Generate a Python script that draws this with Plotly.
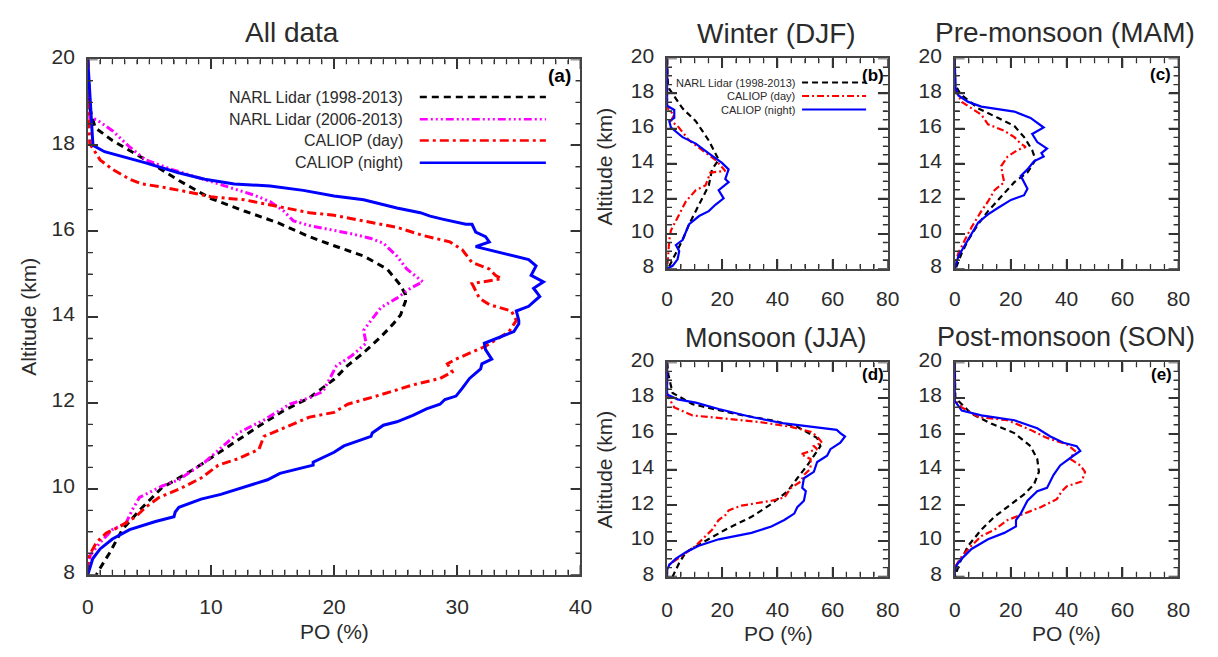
import plotly.graph_objects as go

# ---------------- data: altitude (km) vs occurrence PO (%) ----------------
# (a) All data
all_narl98_alt = [20.0, 19.5, 19.2, 18.86, 18.41, 18.11, 17.66, 17.18, 16.76, 16.47, 16.20, 15.87, 15.66, 15.42, 15.12, 14.74, 14.52, 14.37, 14.05, 13.84, 13.54, 13.17, 12.87, 12.55, 12.12, 11.82, 11.48, 10.92, 10.47, 10.02, 9.50, 9.05, 8.52, 8.15, 8.0]
all_narl98_po = [0.0, 0.05, 0.1, 0.16, 0.6, 2.0, 4.7, 7.4, 10.0, 12.7, 15.4, 18.0, 20.0, 22.4, 24.3, 25.4, 25.8, 25.8, 25.4, 24.8, 23.8, 22.4, 21.1, 20.0, 18.0, 15.9, 14.0, 11.1, 8.7, 6.0, 4.2, 2.8, 1.8, 1.0, 0.7]

all_narl06_alt = [20.0, 19.5, 19.0, 18.64, 18.6, 18.34, 17.96, 17.66, 17.44, 17.21, 17.03, 16.84, 16.69, 16.47, 16.24, 16.13, 16.02, 15.94, 15.83, 15.72, 15.42, 15.12, 14.82, 14.67, 14.44, 14.22, 13.92, 13.69, 13.39, 13.09, 12.87, 12.64, 12.27, 12.12, 11.97, 11.60, 11.30, 11.15, 10.62, 10.21, 10.06, 9.80, 9.50, 9.20, 9.05, 8.75, 8.45, 8.1, 8.0]
all_narl06_po = [0.0, 0.05, 0.1, 0.16, 0.7, 2.0, 3.4, 4.7, 6.8, 9.5, 11.4, 13.5, 14.8, 15.9, 16.7, 18.0, 20.0, 21.4, 23.0, 24.0, 25.1, 25.9, 27.2, 26.2, 25.1, 23.8, 23.0, 22.4, 22.6, 21.4, 20.2, 19.8, 19.1, 18.0, 16.4, 14.3, 12.2, 11.6, 9.5, 7.4, 6.0, 4.2, 3.6, 3.1, 2.0, 1.0, 0.2, 0.0, 0.0]

all_day_alt = [20.0, 19.0, 18.5, 18.04, 17.66, 17.44, 17.21, 17.10, 17.03, 16.91, 16.80, 16.73, 16.58, 16.43, 16.37, 16.24, 16.09, 15.90, 15.75, 15.57, 15.27, 15.12, 14.97, 14.89, 14.78, 14.44, 14.29, 14.14, 13.92, 13.66, 13.32, 13.02, 12.91, 12.72, 12.57, 12.42, 12.19, 11.97, 11.78, 11.67, 11.41, 11.22, 10.92, 10.70, 10.55, 10.25, 9.99, 9.80, 9.57, 9.35, 9.12, 8.97, 8.75, 8.49, 8.3, 8.0]
all_day_po = [0.0, 0.05, 0.1, 0.16, 1.0, 2.0, 3.4, 4.4, 6.0, 8.2, 10.0, 12.7, 15.4, 18.0, 20.0, 22.4, 25.1, 27.2, 29.4, 30.4, 31.2, 32.6, 33.1, 33.6, 31.2, 31.8, 32.6, 34.4, 34.8, 34.2, 32.3, 29.9, 29.2, 29.6, 28.6, 26.4, 23.8, 21.1, 20.0, 18.0, 15.9, 14.3, 13.9, 12.2, 10.6, 9.2, 7.4, 5.8, 4.7, 3.9, 2.6, 1.5, 0.7, 0.2, 0.0, 0.0]

all_night_alt = [20.0, 19.5, 19.0, 18.5, 18.0, 17.85, 17.70, 17.59, 17.36, 17.21, 17.10, 17.05, 16.95, 16.82, 16.73, 16.54, 16.43, 16.35, 16.28, 16.16, 16.16, 15.98, 15.87, 15.75, 15.64, 15.49, 15.34, 15.19, 14.97, 14.82, 14.67, 14.48, 14.25, 14.14, 13.92, 13.84, 13.66, 13.39, 13.24, 13.02, 12.91, 12.79, 12.57, 12.34, 12.16, 12.08, 11.97, 11.86, 11.71, 11.56, 11.48, 11.30, 11.22, 11.11, 11.0, 10.85, 10.62, 10.55, 10.36, 10.21, 10.04, 9.87, 9.76, 9.57, 9.46, 9.35, 9.24, 9.05, 8.83, 8.60, 8.37, 8.15, 8.0]
all_night_po = [0.0, 0.1, 0.2, 0.3, 0.42, 1.36, 3.36, 4.7, 7.36, 9.5, 11.9, 14.8, 17.5, 20.0, 22.4, 25.1, 27.0, 27.8, 28.8, 30.7, 31.2, 31.5, 32.3, 32.6, 31.5, 33.6, 35.8, 36.4, 36.0, 37.0, 36.2, 36.7, 35.8, 34.8, 35.0, 35.0, 34.6, 32.2, 32.3, 32.8, 32.0, 31.9, 31.0, 30.4, 29.9, 29.0, 28.6, 27.5, 26.4, 25.1, 24.0, 23.1, 23.0, 21.9, 20.8, 20.0, 18.3, 18.3, 15.6, 14.6, 12.7, 10.8, 9.2, 7.4, 7.1, 7.0, 5.5, 3.4, 2.0, 1.0, 0.4, 0.2, 0.0]

# (b) Winter (DJF)
djf_narl_alt = [20.0, 19.0, 18.5, 18.26, 17.15, 16.42, 15.32, 14.22, 13.67, 12.75, 12.02, 11.29, 10.55, 9.64, 8.90, 8.17, 8.0]
djf_narl_po = [0.0, 0.1, 0.3, 0.8, 5.6, 10.4, 15.1, 18.7, 16.3, 15.1, 12.7, 10.4, 8.0, 5.6, 3.2, 0.8, 0.3]
djf_day_alt = [20.0, 17.2, 17.0, 16.79, 16.42, 16.15, 15.32, 14.77, 14.22, 13.58, 13.49, 12.75, 12.48, 11.84, 10.92, 10.19, 9.64, 8.5, 8.0]
djf_day_po = [0.0, 0.0, 1.0, 2.6, 1.4, 3.8, 8.0, 12.7, 17.5, 21.1, 15.7, 13.9, 10.4, 6.8, 3.8, 1.4, 0.8, 0.2, 0.0]
djf_night_alt = [20.0, 17.3, 17.06, 16.61, 16.42, 16.06, 15.51, 15.14, 14.59, 14.04, 13.67, 13.12, 12.94, 12.48, 12.02, 11.65, 11.29, 11.01, 10.55, 9.64, 9.36, 9.0, 8.54, 8.17, 8.0]
djf_night_po = [0.0, 0.0, 2.6, 2.6, 0.8, 1.4, 5.6, 10.4, 15.1, 19.9, 22.3, 21.1, 22.3, 18.7, 20.5, 17.5, 15.1, 11.6, 8.0, 5.6, 3.2, 4.4, 3.8, 2.0, 0.0]

# (c) Pre-monsoon (MAM)
mam_narl_alt = [20.0, 18.5, 17.95, 17.15, 16.61, 16.15, 15.51, 14.77, 14.22, 13.49, 12.94, 11.93, 11.29, 10.55, 9.64, 8.90, 8.17, 8.0]
mam_narl_po = [0.0, 0.1, 2.1, 8.4, 15.4, 21.3, 24.8, 27.7, 28.9, 26.0, 21.3, 15.4, 11.9, 8.4, 4.8, 2.5, 0.7, 0.3]
mam_day_alt = [20.0, 18.5, 18.2, 17.52, 17.15, 16.79, 16.24, 15.87, 15.51, 15.14, 14.95, 14.77, 14.40, 13.86, 13.30, 12.94, 12.48, 11.84, 11.29, 10.37, 9.64, 8.90, 8.2, 8.0]
mam_day_po = [0.0, 0.0, 0.2, 2.5, 6.0, 9.5, 11.9, 17.7, 21.3, 23.6, 25.4, 22.4, 18.9, 16.6, 17.2, 17.7, 14.2, 11.9, 9.5, 6.0, 3.6, 1.3, 0.0, 0.0]
mam_night_alt = [20.0, 19.7, 18.3, 17.89, 17.52, 17.25, 16.97, 16.61, 16.06, 15.69, 15.23, 14.86, 14.6, 14.40, 14.13, 13.67, 13.30, 12.94, 12.57, 12.20, 11.93, 11.47, 11.10, 10.64, 10.00, 9.27, 8.72, 8.0]
mam_night_po = [0.0, 0.0, 0.3, 1.3, 4.8, 9.5, 21.3, 27.1, 31.8, 27.7, 29.5, 33.0, 31.0, 31.8, 28.3, 26.0, 23.6, 24.8, 26.0, 24.8, 20.1, 15.4, 11.9, 8.4, 6.0, 3.1, 1.3, 0.0]

# (d) Monsoon (JJA)
jja_narl_alt = [20.0, 19.3, 18.29, 17.66, 17.12, 16.76, 16.39, 15.77, 15.31, 14.77, 14.23, 13.51, 12.79, 12.07, 11.35, 10.63, 9.91, 9.37, 8.8, 8.2, 8.0]
jja_narl_po = [0.0, 0.5, 2.0, 9.2, 24.6, 37.8, 47.2, 54.4, 55.6, 53.2, 50.8, 47.2, 43.7, 37.8, 30.6, 21.1, 12.8, 6.8, 4.5, 2.6, 2.0]
jja_day_alt = [20.0, 18.3, 18.1, 17.48, 17.03, 16.85, 16.67, 16.39, 16.12, 15.85, 15.50, 15.31, 15.14, 14.86, 14.59, 14.05, 13.69, 13.33, 12.97, 12.43, 12.25, 11.98, 11.71, 11.44, 11.17, 10.63, 10.27, 9.73, 9.19, 8.82, 8.6, 8.0]
jja_day_po = [0.0, 0.0, 0.3, 2.6, 9.2, 21.1, 33.0, 44.9, 52.0, 54.4, 56.2, 53.2, 54.4, 48.5, 52.0, 52.0, 49.6, 48.5, 44.9, 42.5, 37.8, 27.0, 22.3, 21.1, 18.7, 16.3, 13.9, 10.4, 5.6, 2.0, 0.0, 0.0]
jja_night_alt = [20.0, 18.2, 17.93, 17.75, 17.39, 16.94, 16.58, 16.36, 16.22, 16.04, 15.85, 15.50, 15.14, 14.77, 14.42, 13.87, 13.51, 12.97, 12.79, 12.25, 11.89, 11.53, 11.17, 10.81, 10.45, 10.09, 9.73, 9.37, 9.01, 8.65, 8.4, 8.0]
jja_night_po = [0.0, 0.0, 3.8, 10.4, 18.7, 30.6, 42.5, 54.4, 61.5, 62.8, 64.5, 62.8, 59.2, 58.0, 54.4, 53.2, 49.6, 49.0, 50.3, 49.6, 47.2, 46.1, 42.5, 37.8, 30.6, 18.7, 11.5, 6.8, 3.2, 0.8, 0.0, 0.0]

# (e) Post-monsoon (SON)
son_narl_alt = [20.0, 18.0, 17.84, 17.12, 16.58, 16.04, 15.31, 14.59, 13.87, 13.15, 12.61, 12.07, 11.35, 10.63, 9.73, 8.82, 8.3, 8.0]
son_narl_po = [0.0, 0.2, 1.3, 6.0, 13.0, 21.3, 27.1, 29.5, 30.1, 28.3, 24.8, 20.1, 14.2, 9.5, 4.8, 1.9, 0.7, 0.3]
son_day_alt = [20.0, 17.9, 17.48, 16.94, 16.76, 16.22, 15.77, 15.41, 15.04, 14.59, 14.23, 13.87, 13.33, 13.06, 12.79, 12.34, 11.89, 11.53, 11.17, 10.63, 10.27, 9.55, 9.01, 8.5, 8.0]
son_day_po = [0.0, 0.0, 2.5, 8.4, 18.9, 27.1, 33.0, 40.1, 43.0, 41.3, 44.9, 46.6, 45.4, 40.1, 38.3, 36.5, 30.7, 24.8, 18.9, 14.2, 9.5, 4.8, 1.9, 0.0, 0.0]
son_night_alt = [20.0, 17.84, 17.30, 17.03, 16.76, 16.31, 15.85, 15.50, 15.31, 15.04, 14.77, 14.23, 13.69, 13.33, 12.97, 12.79, 12.25, 11.53, 11.17, 10.81, 10.45, 10.09, 9.55, 9.01, 8.65, 8.3, 8.0]
son_night_po = [0.0, 0.0, 2.5, 9.5, 21.3, 29.5, 34.2, 38.9, 43.6, 44.9, 42.4, 37.7, 35.3, 34.2, 33.0, 29.5, 26.0, 23.6, 21.9, 21.9, 17.7, 11.9, 6.0, 2.5, 0.7, 0.0, 0.0]

series_names = ["NARL Lidar (1998-2013)", "NARL Lidar (2006-2013)", "CALIOP (day)", "CALIOP (night)"]
panel_titles = ["All data", "Winter (DJF)", "Pre-monsoon (MAM)", "Monsoon (JJA)", "Post-monsoon (SON)"]
panel_tags = ["(a)", "(b)", "(c)", "(d)", "(e)"]

# ---------------- styling ----------------
W, H = 1218, 657
FONT = "Liberation Sans, Arial, Helvetica, sans-serif"
TXT = "#2b2b2b"
AX = "#444444"
TK = "#333333"

C_NARL98, C_NARL06, C_DAY, C_NIGHT = "#000000", "#ff00ff", "#ff0000", "#0000ff"
D_BIG = {"n98": "7px,5px", "n06": "8px,3px,2px,3px,2px,3px,2px,3px", "day": "9px,4px,3px,4px", "night": "solid"}
D_SMALL = {"n98": "6px,4px", "day": "7px,3px,2px,3px", "night": "solid"}


def fx(p):
    return p / W


def fy(p):
    return 1 - p / H


def xaxis(dom, rng, dtick, minor, anchor, standoff):
    return dict(domain=dom, range=rng, dtick=dtick, tick0=0, anchor=anchor,
                showline=True, linecolor=AX, linewidth=1.5, mirror="ticks",
                ticks="inside", ticklen=10, tickwidth=1.5, tickcolor=TK,
                minor=dict(ticks="inside", ticklen=5, tickwidth=1.3, tickcolor=TK, dtick=minor, tick0=0),
                showgrid=False, zeroline=False, ticklabelstandoff=standoff,
                tickfont=dict(family=FONT, size=21, color=TXT))


def yaxis(dom, anchor):
    return dict(domain=dom, range=[8, 20], dtick=2, tick0=0, anchor=anchor,
                showline=True, linecolor=AX, linewidth=1.5, mirror="ticks",
                ticks="inside", ticklen=10, tickwidth=1.5, tickcolor=TK,
                minor=dict(ticks="inside", ticklen=5, tickwidth=1.3, tickcolor=TK, dtick=0.5, tick0=0),
                showgrid=False, zeroline=False, ticklabelstandoff=7, ticklabelshift=-3,
                tickfont=dict(family=FONT, size=21, color=TXT))


fig = go.Figure()


def add_line(po, alt, color, width, dash, ax):
    fig.add_trace(go.Scatter(x=po, y=alt, mode="lines", showlegend=False, hoverinfo="skip",
                             line=dict(color=color, width=width, dash=dash),
                             xaxis="x" + ax, yaxis="y" + ax))


def box_ticks(ax, xmax, xmajor, xminor, wpx, hpx):
    """Inward tick marks on all four sides of a panel (box axes), built from the axis ranges."""
    ux = xmax / wpx          # data units per pixel along x
    uy = 12.0 / hpx          # km per pixel along y
    groups = {True: ([], []), False: ([], [])}
    n = int(round(xmax / xminor))
    for i in range(n + 1):
        v = i * xminor
        major = abs(v / xmajor - round(v / xmajor)) < 1e-9
        L = 10 if major else 5
        xs, ys = groups[major]
        xs += [v, v, None, v, v, None]
        ys += [8, 8 + L * uy, None, 20, 20 - L * uy, None]
    for i in range(25):
        v = 8 + i * 0.5
        major = i % 4 == 0
        L = 10 if major else 5
        xs, ys = groups[major]
        xs += [0, L * ux, None, xmax, xmax - L * ux, None]
        ys += [v, v, None, v, v, None]
    for major, (xs, ys) in groups.items():
        fig.add_trace(go.Scatter(x=xs, y=ys, mode="lines", showlegend=False, hoverinfo="skip",
                                 line=dict(color=TK, width=1.6 if major else 1.3),
                                 xaxis="x" + ax, yaxis="y" + ax, cliponaxis=False))


# panel (a)
add_line(all_narl98_po, all_narl98_alt, C_NARL98, 3, D_BIG["n98"], "")
add_line(all_narl06_po, all_narl06_alt, C_NARL06, 3, D_BIG["n06"], "")
add_line(all_day_po, all_day_alt, C_DAY, 3, D_BIG["day"], "")
add_line(all_night_po, all_night_alt, C_NIGHT, 3, D_BIG["night"], "")

# seasonal panels
seasonal = [
    ("2", djf_narl_po, djf_narl_alt, djf_day_po, djf_day_alt, djf_night_po, djf_night_alt),
    ("3", mam_narl_po, mam_narl_alt, mam_day_po, mam_day_alt, mam_night_po, mam_night_alt),
    ("4", jja_narl_po, jja_narl_alt, jja_day_po, jja_day_alt, jja_night_po, jja_night_alt),
    ("5", son_narl_po, son_narl_alt, son_day_po, son_day_alt, son_night_po, son_night_alt),
]
for ax, npo, nalt, dpo, dalt, gpo, galt in seasonal:
    add_line(npo, nalt, C_NARL98, 2.2, D_SMALL["n98"], ax)
    add_line(dpo, dalt, C_DAY, 2.2, D_SMALL["day"], ax)
    add_line(gpo, galt, C_NIGHT, 2.2, D_SMALL["night"], ax)

# panel frames (pixel boxes -> paper domains) and x tick-label standoff
boxes = {
    "": (83, 583, 46, 580, 12),
    "2": (671, 895, 45, 263, 10),
    "3": (963, 1190, 45, 263, 10),
    "4": (671, 895, 360, 582, 13),
    "5": (963, 1190, 360, 582, 13),
}
layout_axes = {}
for ax, (x0, x1, y0, y1, so) in boxes.items():
    xd = [fx(x0), fx(x1)]
    yd = [fy(y1), fy(y0)]
    if ax == "":
        layout_axes["xaxis"] = xaxis(xd, [0, 40], 10, 1, "y", so)
        layout_axes["yaxis"] = yaxis(yd, "x")
        box_ticks(ax, 40, 10, 1, x1 - x0, y1 - y0)
    else:
        layout_axes["xaxis" + ax] = xaxis(xd, [0, 80], 20, 5, "y" + ax, so)
        layout_axes["yaxis" + ax] = yaxis(yd, "x" + ax)
        box_ticks(ax, 80, 20, 5, x1 - x0, y1 - y0)

annotations = []
shapes = []


def text(x, y, s, size, bold=False, anchor="center", angle=0):
    annotations.append(dict(text=("<b>%s</b>" % s) if bold else s, x=fx(x), y=fy(y),
                            xref="paper", yref="paper", showarrow=False,
                            xanchor=anchor, yanchor="middle", textangle=angle,
                            font=dict(family=FONT, size=size, color="#000000" if bold else TXT)))


# titles
text(290, 18, panel_titles[0], 28)
text(782, 19, panel_titles[1], 28)
text(1075, 18, panel_titles[2], 28)
text(782, 335, panel_titles[3], 27)
text(1076, 334, panel_titles[4], 27)

# panel tags
text(562, 63, panel_tags[0], 19, bold=True)
text(880, 63, panel_tags[1], 17, bold=True)
text(1172, 62, panel_tags[2], 17, bold=True)
text(880, 373, panel_tags[3], 17, bold=True)
text(1173, 373, panel_tags[4], 17, bold=True)

# axis titles
text(22, 313, "Altitude (km)", 21, angle=-90)
text(607, 157, "Altitude (km)", 21, angle=-90)
text(607, 471, "Altitude (km)", 21, angle=-90)
text(333, 639, "PO (%)", 21)
text(784, 641, "PO (%)", 21)
text(1076, 641, "PO (%)", 21)


def legend_row(xt, xl0, xl1, yrow, label, color, dash, width, size):
    text(xt, yrow, label, size, anchor="right")
    shapes.append(dict(type="line", xref="paper", yref="paper",
                       x0=fx(xl0), x1=fx(xl1), y0=fy(yrow), y1=fy(yrow),
                       line=dict(color=color, width=width, dash=dash)))


# legend of panel (a)
legend_row(405, 420, 548, 85, series_names[0], C_NARL98, D_BIG["n98"], 2.5, 16)
legend_row(405, 420, 548, 108, series_names[1], C_NARL06, D_BIG["n06"], 2.5, 16)
legend_row(405, 420, 548, 130, series_names[2], C_DAY, D_BIG["day"], 2.5, 16)
legend_row(405, 420, 548, 153, series_names[3], C_NIGHT, D_BIG["night"], 2.5, 16)

# legend of panel (b)
legend_row(803, 808, 873, 70, series_names[0], C_NARL98, D_SMALL["n98"], 2, 11)
legend_row(803, 808, 873, 84, series_names[2], C_DAY, D_SMALL["day"], 2, 11)
legend_row(803, 808, 873, 98, series_names[3], C_NIGHT, D_SMALL["night"], 2, 11)

fig.update_layout(
    width=W, height=H, autosize=False,
    margin=dict(l=0, r=0, t=0, b=0),
    paper_bgcolor="white", plot_bgcolor="white", showlegend=False,
    annotations=annotations, shapes=shapes,
    **layout_axes,
)

fig.write_html("out.html")
